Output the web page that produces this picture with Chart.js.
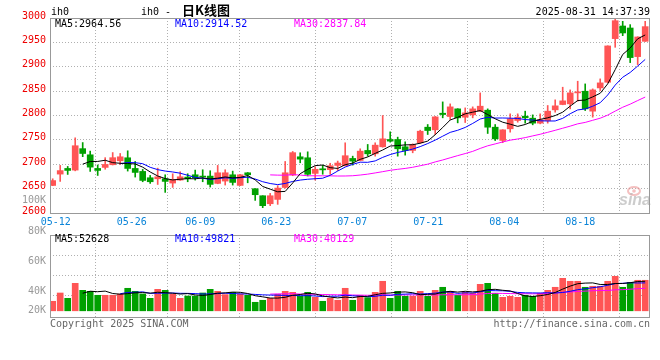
<!DOCTYPE html>
<html><head><meta charset="utf-8">
<script src="https://cdn.jsdelivr.net/npm/chart.js@4.4.1/dist/chart.umd.min.js"></script>
<style>
html,body{margin:0;padding:0;background:#fff;}
#wrap{position:relative;width:660px;height:360px;overflow:hidden;background:#fff;}
canvas{position:absolute;left:0;top:0;}
</style></head><body>
<div id="wrap"><canvas id="price" width="660" height="360"></canvas><canvas id="vol" width="660" height="360"></canvas></div>
<script>
// ---------------- data ----------------
const dates = ['05-09','05-12','05-13','05-14','05-15','05-16','05-19','05-20','05-21','05-22','05-23',
 '05-26','05-27','05-28','05-29','05-30','06-03','06-04','06-05','06-06',
 '06-09','06-10','06-11','06-12','06-13','06-16','06-17','06-18','06-19','06-20',
 '06-23','06-24','06-25','06-26','06-27','06-30','07-01','07-02','07-03','07-04',
 '07-07','07-08','07-09','07-10','07-11','07-14','07-15','07-16','07-17','07-18',
 '07-21','07-22','07-23','07-24','07-25','07-28','07-29','07-30','07-31','08-01',
 '08-04','08-05','08-06','08-07','08-08','08-11','08-12','08-13','08-14','08-15',
 '08-18','08-19','08-20','08-21','08-22','08-25','08-26','08-27','08-28','08-29'];
const open = [2656.5,2679.8,2691.4,2688,2732,2719.4,2691.4,2693.5,2699,2707.1,
 2713.3,2691.4,2685.3,2672.3,2670.2,2670.2,2661.4,2667.5,2673.7,2678.4,
 2675.7,2675.7,2660.7,2665.5,2678.4,2656.6,2682.5,2649.8,2635.4,2619,
 2627.9,2652.4,2677.8,2715.3,2713.3,2681.2,2690.7,2689,2697.6,2697,
 2711.9,2707.8,2728.3,2721.4,2735.8,2750.8,2750.8,2735.8,2728.3,2744,
 2776,2770.6,2804.7,2797.9,2813.6,2796.5,2801.3,2808.8,2810.9,2776,
 2748.8,2772.7,2789.7,2798.6,2794.5,2784.3,2789.7,2811.6,2822.5,2823.9,
 2846.4,2849.8,2808.9,2856.6,2868.2,2957.7,2983.6,2979.5,2920.8,2952.2];
const high = [2670.2,2697.6,2695.5,2754.2,2744.5,2727,2698.5,2713.5,2724,2722.1,
 2727.6,2705.7,2689.4,2677.1,2692,2678.4,2680.5,2684.6,2680.5,2688,
 2688.7,2686.7,2697.6,2688.7,2685.9,2679,2683,2650,2635.4,2640.2,
 2656,2705.7,2726.2,2723.5,2725.5,2695,2698,2702,2706.5,2744,
 2716.6,2731.7,2740.6,2744,2799.9,2766.5,2755.6,2746,2741.9,2769.9,
 2781.5,2798,2827.9,2823.8,2814,2815.6,2817.7,2846.4,2813.6,2781.5,
 2771,2803.4,2803.4,2808.9,2801.3,2803.4,2820.5,2832.1,2858,2852.5,
 2870.3,2864.8,2854.6,2875.1,2943,2998,2993.2,2986.4,2961.5,2993.2];
const low = [2656,2664.8,2679.1,2686.5,2715.5,2685.3,2677,2689.8,2698.5,2699.6,
 2686,2673.7,2664.1,2660.7,2658.5,2642.3,2652.5,2667,2664.1,2667.5,
 2664.1,2653.2,2660,2657.3,2657.3,2656,2662,2625.9,2610.9,2615,
 2617.7,2651,2676.4,2703,2676,2667.5,2679.5,2679.1,2687,2696.5,
 2698.2,2707,2716.6,2716.6,2735,2745.3,2716.6,2718.7,2723.5,2743,
 2761,2761,2795.2,2791.7,2784.9,2785.6,2795.2,2808,2763.1,2748.7,
 2744.2,2765.8,2786.3,2784.3,2780.9,2782.9,2784.3,2806.8,2822,2813.6,
 2829.3,2810.2,2796.6,2851.2,2867,2939.9,2963.8,2908.5,2904.4,2952];
const close = [2666.5,2687,2687.3,2738,2722.1,2694.1,2687.3,2699.6,2713.5,2715.3,
 2691.4,2683.2,2666.8,2664.1,2674.3,2664.8,2668.9,2674.3,2670.3,2672.3,
 2673.7,2658.7,2682.5,2682.5,2662.7,2678.4,2678.4,2637.5,2615,2635.4,
 2651.1,2682.5,2723.8,2710.5,2679.4,2689.7,2688.5,2696.9,2702.5,2717.5,
 2706.4,2726.9,2721.4,2739.2,2752.1,2747.4,2731.7,2728.3,2740.6,2767.8,
 2769.2,2797.2,2802,2817.7,2795.2,2805.4,2813.6,2819.1,2776,2752.1,
 2770.6,2793.2,2796.6,2795.2,2784.3,2791.1,2808.9,2819.8,2830,2846.4,
 2848.5,2813.6,2852.5,2866.9,2942.7,2994.5,2969.3,2918.8,2961.1,2982.3];
const volume = [17000,31800,22300,49100,36600,34800,27700,27700,27700,30000,
 40200,34800,30000,22300,38400,36600,30000,22300,26400,26400,
 31800,38400,34800,28900,33000,30000,27700,15200,18800,22300,
 29500,34800,33000,25900,33000,24100,17000,22300,18800,40200,
 18800,27700,23600,33000,52700,22300,34800,25900,25900,34800,
 25900,36600,42000,34800,27700,33000,31300,47300,49100,31300,
 24100,25900,24100,27700,25900,31300,36600,42000,58000,52700,
 52700,42000,43800,43800,52700,61600,42000,50900,54500,54500];
const dateTicks = ['05-12','05-26','06-09','06-23','07-07','07-21','08-04','08-18'];
const priceTicks = [2600,2650,2700,2750,2800,2850,2900,2950,3000];
const priceLegend = ['MA5:2964.56','MA10:2914.52','MA30:2837.84'];
const volLegend = ['MA5:52628','MA10:49821','MA30:40129'];
const volAxisLabels = ['100K','80K','60K','40K','20K'];
const symbol = 'ih0';
const titleCN = '日K线图';
const stamp = '2025-08-31 14:37:39';
const footLeft = 'Copyright 2025 SINA.COM';
const footRight = 'http://finance.sina.com.cn';

// ---------------- helpers ----------------
const MONO = '"DejaVu Sans Mono", "Liberation Mono", monospace';
const RED = '#ff5555', GREEN = '#00a000';
const MA_COLORS = ['#000000', '#0000ff', '#ff00ff'];
const GRID = '#b0b0b0';
function sma(arr, n){ return arr.map((_, i) => i < n-1 ? null : arr.slice(i-n+1, i+1).reduce((a,b)=>a+b,0)/n); }
function xy(arr){ const out=[]; arr.forEach((v,i)=>{ if(v!==null) out.push({x:i, y:v}); }); return out; }
const colors = dates.map((d,i) => close[i] >= open[i] ? RED : GREEN);
const tickIdx = dateTicks.map(t => dates.indexOf(t));

function lineDs(values, color){
  return {type:'line', data: xy(values), borderColor: color, borderWidth: 1, pointRadius: 0,
          tension: 0, fill: false, order: 0, xAxisID: 'x', yAxisID: 'y'};
}
function frameAndText(texts){
  return {id: 'frameText', afterDraw(chart){
    const {ctx, chartArea: a} = chart;
    ctx.save();
    ctx.strokeStyle = '#999999'; ctx.lineWidth = 1;
    ctx.strokeRect(Math.round(a.left)+0.5, Math.round(a.top)+0.5, Math.round(a.right-a.left)-1, Math.round(a.bottom-a.top));
    texts.forEach(t => {
      ctx.font = t.font || ('10px ' + MONO);
      ctx.fillStyle = t.color || '#000';
      ctx.textAlign = t.align || 'left';
      ctx.textBaseline = 'middle';
      ctx.fillText(t.text, t.x, t.y);
    });
    ctx.restore();
  }};
}
const watermark = {id:'wm', afterDraw(chart){
  const ctx = chart.ctx; ctx.save();
  ctx.strokeStyle = 'rgba(235,140,140,0.55)'; ctx.lineWidth = 2;
  ctx.beginPath(); ctx.ellipse(634, 191, 6, 4, 0, 0, Math.PI*2); ctx.stroke();
  ctx.fillStyle = 'rgba(235,140,140,0.55)';
  ctx.beginPath(); ctx.arc(634, 191, 1.8, 0, Math.PI*2); ctx.fill();
  ctx.font = 'italic bold 16px "Liberation Sans", sans-serif';
  ctx.fillStyle = 'rgba(170,170,170,0.6)'; ctx.textAlign = 'left'; ctx.textBaseline = 'alphabetic';
  ctx.fillText('sina', 619, 205);
  ctx.restore();
}};

const common = {responsive:false, animation:false, devicePixelRatio:1,
  plugins:{legend:{display:false}, tooltip:{enabled:false}}};

// ---------------- price chart ----------------
new Chart(document.getElementById('price'), {
  type: 'bar',
  data: {datasets: [
    lineDs(sma(close,5), MA_COLORS[0]),
    lineDs(sma(close,10), MA_COLORS[1]),
    lineDs(sma(close,30), MA_COLORS[2]),
    {type:'bar', data: dates.map((d,i)=>({x:i, y:[open[i], close[i]]})), backgroundColor: colors,
     barThickness: 6, minBarLength: 1, grouped: false, order: 1, borderWidth: 0},
    {type:'bar', data: dates.map((d,i)=>({x:i, y:[low[i], high[i]]})), backgroundColor: colors,
     barThickness: 1, grouped: false, order: 2, borderWidth: 0}
  ]},
  options: Object.assign({}, common, {
    layout: {padding: {left: 0, right: 10, top: 18, bottom: 133}},
    scales: {
      x: {type:'linear', min:-0.36, max:79.64, display:false, offset:false},
      xd: {type:'linear', position:'bottom', min:0.04, max:78.99, offset:false,
        afterBuildTicks: s => { s.ticks = tickIdx.map(v => ({value: v})); },
        afterFit: s => { s.height = 14; },
        ticks: {autoSkip:false, maxRotation:0, padding:3, labelOffset:-1.5, color:'#0a84d8',
                font:{family:MONO, size:10}, callback: v => dates[v]},
        grid: {color: GRID, drawTicks:false, lineWidth:1},
        border: {display:false, dash:[1,2]}},
      y: {type:'linear', position:'left', min:2600, max:3000, beginAtZero:false,
        afterBuildTicks: s => { s.ticks = priceTicks.map(v => ({value: v})); },
        afterFit: s => { s.width = 50; },
        ticks: {autoSkip:false, padding:4, labelOffset:-2, color:'#ee0000',
                font:{family:MONO, size:10}, callback: v => String(v)},
        grid: {color: GRID, drawTicks:false, lineWidth:1},
        border: {display:false, dash:[1,2]}}
    }
  }),
  plugins: [watermark, frameAndText([
    {text: symbol, x: 51, y: 12},
    {text: symbol + ' -', x: 141, y: 12},
    {text: titleCN, x: 182, y: 10, font: 'bold 13px "Noto Sans CJK SC", sans-serif'},
    {text: stamp, x: 650, y: 12, align: 'right'},
    {text: priceLegend[0], x: 55, y: 24, color: MA_COLORS[0]},
    {text: priceLegend[1], x: 175, y: 24, color: MA_COLORS[1]},
    {text: priceLegend[2], x: 294, y: 24, color: MA_COLORS[2]},
    {text: volAxisLabels[0], x: 46, y: 200, align: 'right', color: '#999999'}
  ])]
});

// ---------------- volume chart ----------------
const VOL_TOP = 235, VOL_BOTTOM = 317, VOL_ZERO = 310.8, VOL_PER_PX = 1786;
const VOL_MAX = (VOL_ZERO - VOL_TOP) * VOL_PER_PX;
const VOL_MIN = -(VOL_BOTTOM - VOL_ZERO) * VOL_PER_PX;
const volGrid = [255, 275, 295].map(Y => (VOL_ZERO - Y) * VOL_PER_PX);

new Chart(document.getElementById('vol'), {
  type: 'bar',
  data: {datasets: [
    lineDs(sma(volume,5), MA_COLORS[0]),
    lineDs(sma(volume,10), MA_COLORS[1]),
    lineDs(sma(volume,30), MA_COLORS[2]),
    {type:'bar', data: dates.map((d,i)=>({x:i, y:volume[i]})), backgroundColor: colors,
     barThickness: 6, grouped: false, order: 1, borderWidth: 0}
  ]},
  options: Object.assign({}, common, {
    layout: {padding: {left: 0, right: 10, top: VOL_TOP, bottom: 360 - VOL_BOTTOM}},
    scales: {
      x: {type:'linear', min:-0.36, max:79.64, display:false, offset:false},
      xd: {type:'linear', position:'bottom', min:0.04, max:78.99, offset:false,
        afterBuildTicks: s => { s.ticks = tickIdx.map(v => ({value: v})); },
        afterFit: s => { s.height = 0; },
        ticks: {display:false},
        grid: {color: GRID, drawTicks:false, lineWidth:1},
        border: {display:false, dash:[1,2]}},
      y: {type:'linear', position:'left', min: VOL_MIN, max: VOL_MAX, beginAtZero:false,
        afterBuildTicks: s => { s.ticks = volGrid.map(v => ({value: v})); },
        afterFit: s => { s.width = 50; },
        ticks: {display:false},
        grid: {color: GRID, drawTicks:false, lineWidth:1},
        border: {display:false, dash:[1,2]}}
    }
  }),
  plugins: [frameAndText([
    {text: volLegend[0], x: 55, y: 239, color: MA_COLORS[0]},
    {text: volLegend[1], x: 175, y: 239, color: MA_COLORS[1]},
    {text: volLegend[2], x: 294, y: 239, color: MA_COLORS[2]},
    {text: volAxisLabels[1], x: 46, y: 231, align: 'right', color: '#999999'},
    {text: volAxisLabels[2], x: 46, y: 261, align: 'right', color: '#999999'},
    {text: volAxisLabels[3], x: 46, y: 291, align: 'right', color: '#999999'},
    {text: volAxisLabels[4], x: 46, y: 310, align: 'right', color: '#999999'},
    {text: footLeft, x: 50, y: 324, color: '#666666'},
    {text: footRight, x: 650, y: 324, align: 'right', color: '#666666'}
  ])]
});
</script>
</body></html>
